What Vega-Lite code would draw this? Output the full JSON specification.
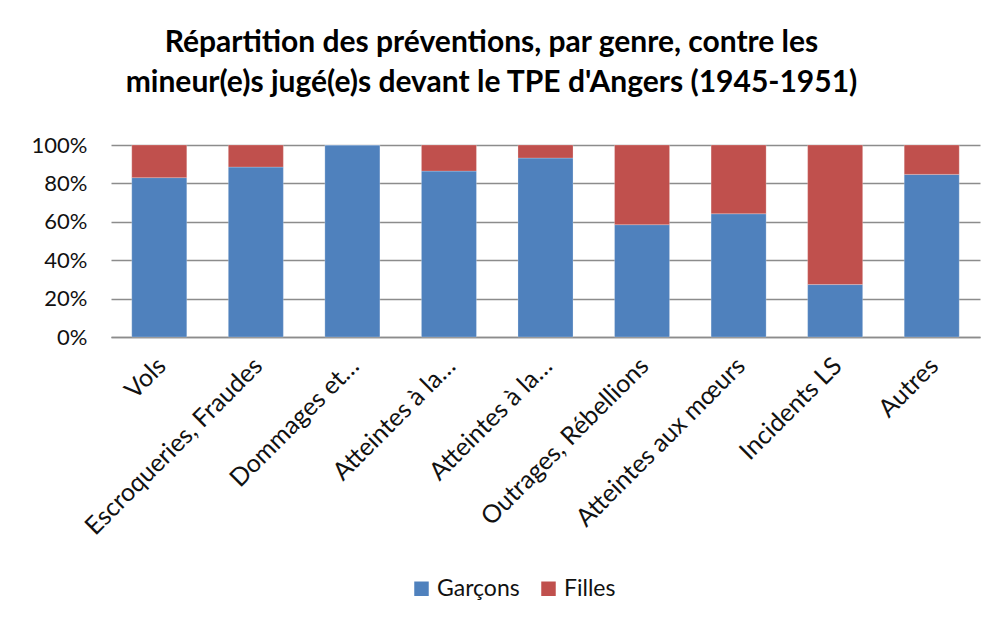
{
  "$schema": "https://vega.github.io/schema/vega-lite/v6.json",
  "width": 869,
  "height": 192,
  "autosize": {"type": "none"},
  "padding": {"left": 111, "top": 145, "right": 15, "bottom": 280},
  "background": "white",
  "title": {
    "text": ["Répartition des préventions, par genre, contre les", "mineur(e)s jugé(e)s devant le TPE d'Angers (1945-1951)"],
    "font": "Lato",
    "fontSize": 30,
    "fontWeight": "bold",
    "color": "#000000",
    "lineHeight": 40,
    "anchor": "middle",
    "dx": -54,
    "offset": 36
  },
  "data": {
    "values": [
      {"cat": "Vols", "genre": "Garçons", "v": 83.0},
      {"cat": "Vols", "genre": "Filles", "v": 17.0},
      {"cat": "Escroqueries, Fraudes", "genre": "Garçons", "v": 88.5},
      {"cat": "Escroqueries, Fraudes", "genre": "Filles", "v": 11.5},
      {"cat": "Dommages et dégradations", "genre": "Garçons", "v": 100},
      {"cat": "Dommages et dégradations", "genre": "Filles", "v": 0},
      {"cat": "Atteintes à la personne", "genre": "Garçons", "v": 86.4},
      {"cat": "Atteintes à la personne", "genre": "Filles", "v": 13.6},
      {"cat": "Atteintes à la propriété", "genre": "Garçons", "v": 93.2},
      {"cat": "Atteintes à la propriété", "genre": "Filles", "v": 6.8},
      {"cat": "Outrages, Rébellions", "genre": "Garçons", "v": 58.5},
      {"cat": "Outrages, Rébellions", "genre": "Filles", "v": 41.5},
      {"cat": "Atteintes aux mœurs", "genre": "Garçons", "v": 64.2},
      {"cat": "Atteintes aux mœurs", "genre": "Filles", "v": 35.8},
      {"cat": "Incidents LS", "genre": "Garçons", "v": 27.3},
      {"cat": "Incidents LS", "genre": "Filles", "v": 72.7},
      {"cat": "Autres", "genre": "Garçons", "v": 84.7},
      {"cat": "Autres", "genre": "Filles", "v": 15.3}
    ]
  },
  "mark": {"type": "bar", "stroke": "#ffffff", "strokeOpacity": 0.4, "strokeWidth": 0.6},
  "encoding": {
    "x": {
      "field": "cat",
      "type": "nominal",
      "sort": null,
      "scale": {"paddingInner": 0.43, "paddingOuter": 0.215},
      "axis": {
        "title": null,
        "labelAngle": -45,
        "labelFont": "Lato",
        "labelFontSize": 25,
        "labelColor": "#111111",
        "labelLimit": 400,
        "labelPadding": 16,
        "labelOffset": -6,
        "ticks": false,
        "domainColor": "#8c8c8c",
        "domainWidth": 1.3,
        "labelExpr": "datum.label == 'Dommages et dégradations' ? 'Dommages et…' : (indexof(datum.label, 'Atteintes à la ') == 0 ? 'Atteintes à la…' : datum.label)"
      }
    },
    "y": {
      "field": "v",
      "type": "quantitative",
      "stack": "normalize",
      "scale": {"domain": [0, 1]},
      "axis": {
        "title": null,
        "format": "%",
        "values": [0, 0.2, 0.4, 0.6, 0.8, 1],
        "labelFont": "Lato",
        "labelFontSize": 22,
        "labelColor": "#111111",
        "labelPadding": 24,
        "ticks": false,
        "domain": false,
        "grid": true,
        "gridColor": "#8c8c8c",
        "gridWidth": 1.3
      }
    },
    "color": {
      "field": "genre",
      "type": "nominal",
      "scale": {"domain": ["Garçons", "Filles"], "range": ["#4F81BD", "#C0504D"]},
      "legend": {
        "title": null,
        "orient": "none",
        "direction": "horizontal",
        "legendX": 299,
        "legendY": 432,
        "symbolType": "square",
        "symbolSize": 210,
        "symbolStrokeWidth": 0,
        "labelFont": "Lato",
        "labelFontSize": 23,
        "labelColor": "#111111",
        "columnPadding": 17
      }
    },
    "order": {"field": "genre", "sort": "descending"}
  },
  "config": {"view": {"stroke": null}}
}
